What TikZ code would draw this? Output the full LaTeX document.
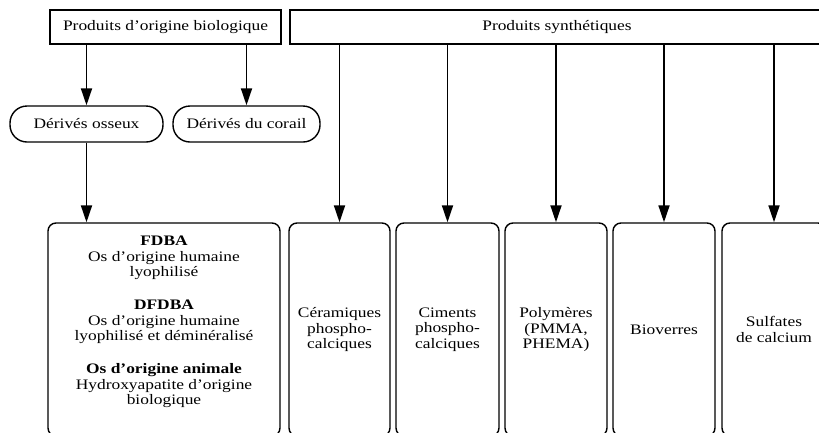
\documentclass[tikz,border=0pt]{standalone}
\usepackage{fontspec}
\setmainfont{Liberation Serif}[FakeStretch=1.2]
\usetikzlibrary{arrows.meta}
\begin{document}
\begin{tikzpicture}[x=1pt,y=-1pt,
  font=\fontsize{14.5}{15.5}\selectfont,
  box/.style={draw, line width=1.4pt, inner sep=0pt, align=center},
  oval/.style={box, rounded corners=17pt, minimum height=36pt},
  leaf/.style={box, rounded corners=8pt, minimum height=213pt},
  arr/.style={line width=1.8pt, -{Triangle[width=11pt,length=17pt]}}]
\clip (0,0) rectangle (819,432);
\fill[white] (0,0) rectangle (819,432);
\node[box, minimum width=231pt, minimum height=34pt] (bio) at (165.5,27) {Produits d'origine biologique};
\node[box, minimum width=534pt, minimum height=34pt] (syn) at (557,27) {Produits synthétiques};
\node[oval, minimum width=153pt] (oss) at (86.5,124) {Dérivés osseux};
\node[oval, minimum width=147pt] (cor) at (246.5,124) {Dérivés du corail};
\node[leaf, minimum width=232pt] (big) at (164,329.5) {};
\node[align=center] (bigt) at (164,322) {\textbf{FDBA}\\Os d'origine humaine\\lyophilisé\\[17.5pt]\textbf{DFDBA}\\Os d'origine humaine\\lyophilisé et déminéralisé\\[17.5pt]\textbf{Os d'origine animale}\\Hydroxyapatite d'origine\\biologique};
\node[leaf, minimum width=101pt] (cer) at (339.5,329.5) {Céramiques\\phospho-\\calciques};
\node[leaf, minimum width=103pt] (cim) at (447.5,329.5) {Ciments\\phospho-\\calciques};
\node[leaf, minimum width=102pt] (pol) at (556,329.5) {Polymères\\(PMMA,\\PHEMA)};
\node[leaf, minimum width=102pt] (bv) at (664,329.5) {Bioverres};
\node[leaf, minimum width=104pt] (sul) at (774,329.5) {Sulfates\\de calcium};
\draw[arr] (bio.south -| oss.north) -- (oss.north);
\draw[arr] (bio.south -| cor.north) -- (cor.north);
\draw[arr] (oss.south) -- (oss.south |- big.north);
\foreach \t in {cer,cim,pol,bv,sul}
  \draw[arr] (syn.south -| \t.north) -- (\t.north);
\end{tikzpicture}
\end{document}
